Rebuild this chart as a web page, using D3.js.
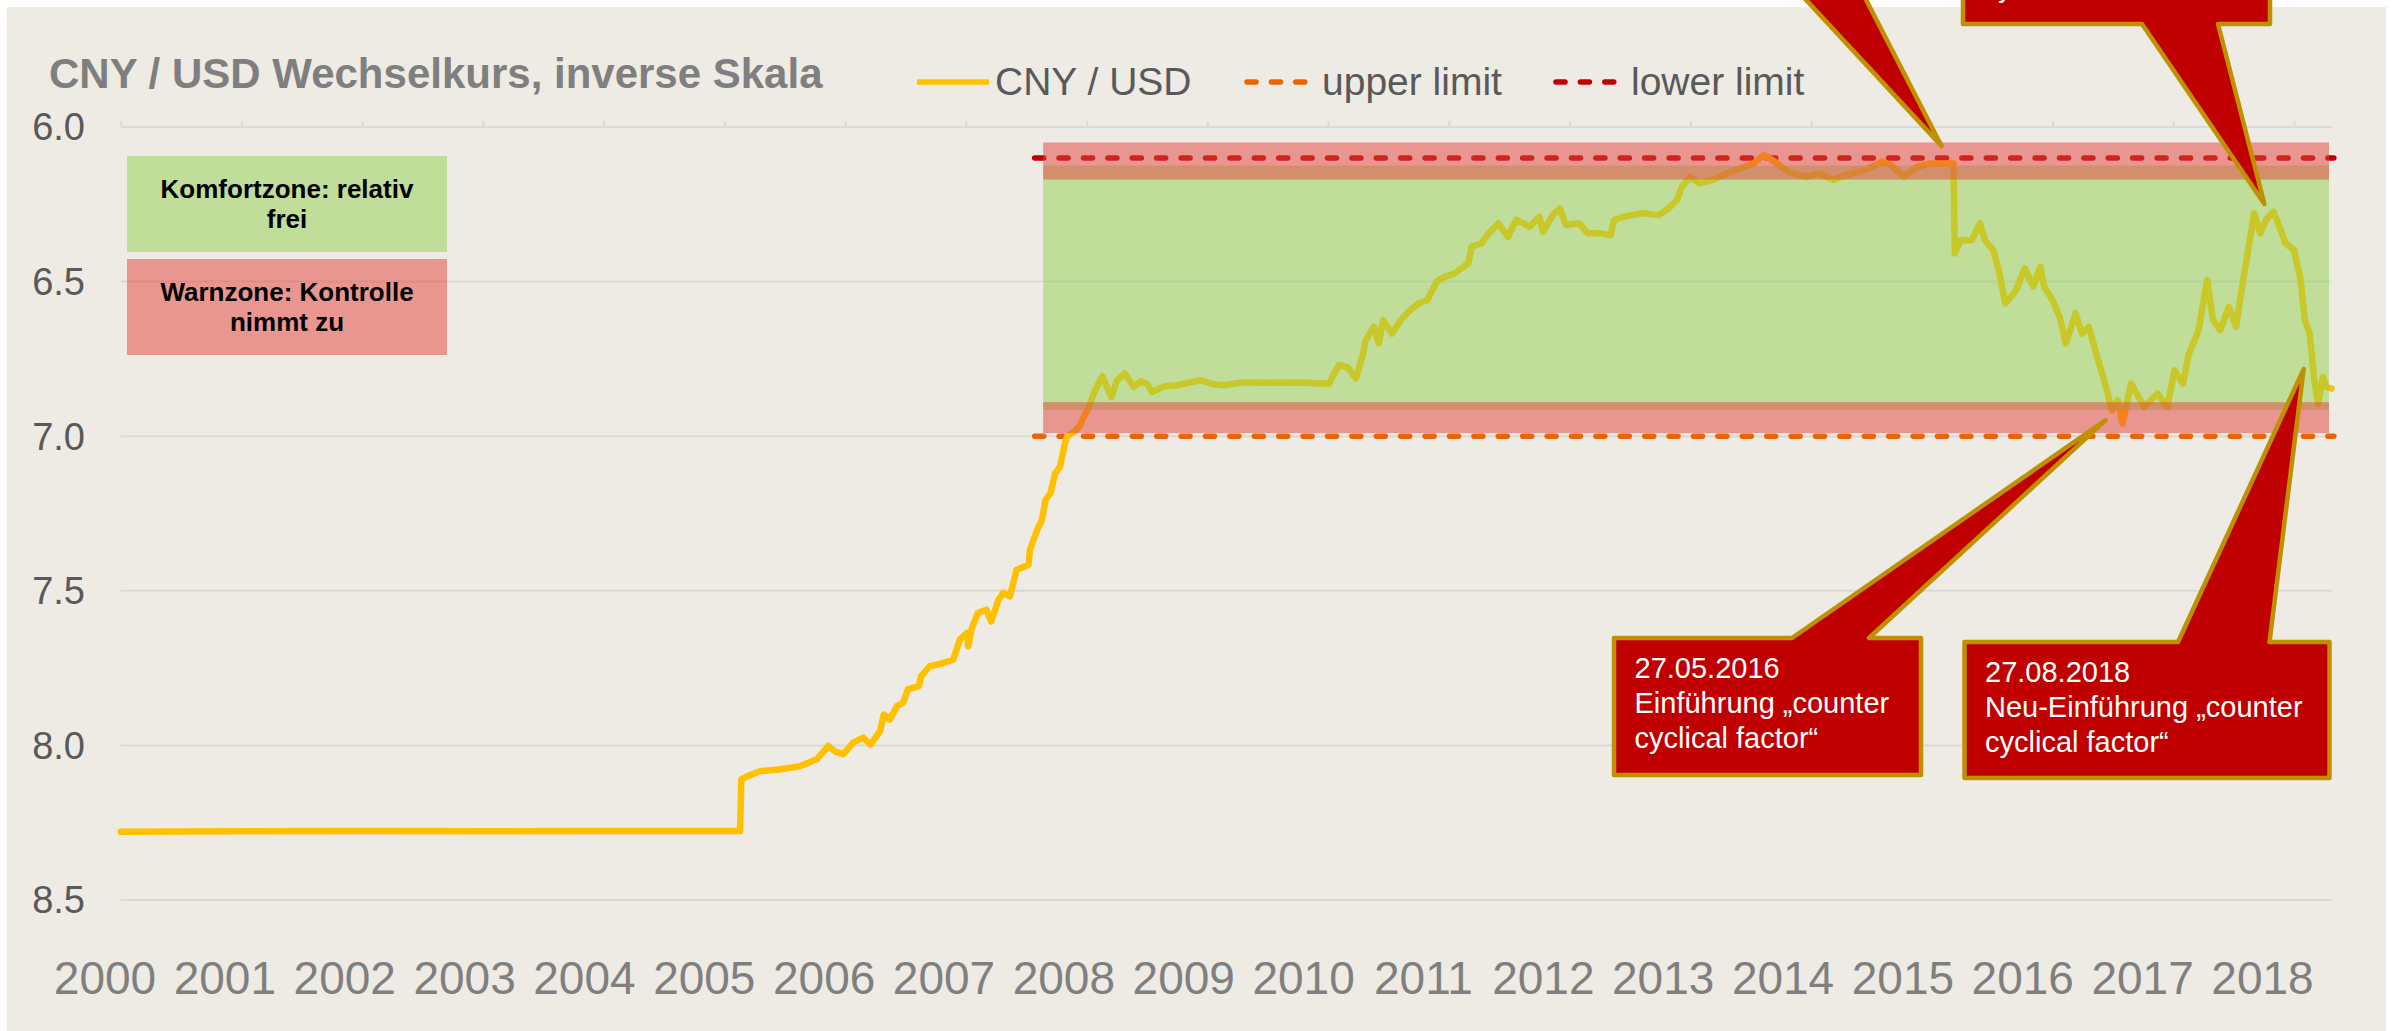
<!DOCTYPE html>
<html>
<head>
<meta charset="utf-8">
<script src="https://cdn.jsdelivr.net/npm/d3@7"></script>
<style>
  body { margin: 0; background: #ffffff; }
  svg { display: block; font-family: "Liberation Sans", Arial, sans-serif; }
</style>
</head>
<body>
<svg id="chart"></svg>
<script>
// x positions are in axis years (as placed on the chart), values are CNY per USD
const years = [
  2000.00, 2001.00, 2002.00, 2003.00, 2004.00, 2005.13, 2005.14, 2005.20, 2005.30, 2005.45,
  2005.63, 2005.765, 2005.86, 2005.92, 2005.985, 2006.07, 2006.15, 2006.21, 2006.29, 2006.32,
  2006.37, 2006.43, 2006.48, 2006.52, 2006.61, 2006.63, 2006.70, 2006.80, 2006.895, 2006.95,
  2007.01, 2007.02, 2007.05, 2007.10, 2007.17, 2007.21, 2007.27, 2007.31, 2007.365, 2007.42,
  2007.52, 2007.53, 2007.59, 2007.63, 2007.66, 2007.70, 2007.74, 2007.78, 2007.82, 2007.84,
  2007.90, 2007.94, 2007.98, 2008.02, 2008.06, 2008.13, 2008.205, 2008.25, 2008.315, 2008.39,
  2008.45, 2008.50, 2008.54, 2008.65, 2008.76, 2008.94, 2009.05, 2009.13, 2009.30, 2009.50,
  2009.75, 2010.01, 2010.05, 2010.09, 2010.16, 2010.23, 2010.29, 2010.31, 2010.38, 2010.42,
  2010.455, 2010.53, 2010.60, 2010.68, 2010.75, 2010.82, 2010.90, 2010.97, 2011.05, 2011.16,
  2011.19, 2011.27, 2011.33, 2011.41, 2011.49, 2011.56, 2011.67, 2011.75, 2011.78, 2011.86,
  2011.92, 2011.97, 2012.08, 2012.15, 2012.26, 2012.34, 2012.37, 2012.45, 2012.60, 2012.74,
  2012.82, 2012.89, 2012.93, 2013.00, 2013.075, 2013.19, 2013.30, 2013.41, 2013.52, 2013.61,
  2013.70, 2013.81, 2013.96, 2014.07, 2014.18, 2014.29, 2014.40, 2014.51, 2014.59, 2014.66,
  2014.77, 2014.88, 2014.99, 2015.10, 2015.18, 2015.19, 2015.24, 2015.33, 2015.40, 2015.44,
  2015.51, 2015.56, 2015.61, 2015.70, 2015.77, 2015.84, 2015.90, 2015.93, 2016.00, 2016.06,
  2016.11, 2016.19, 2016.245, 2016.30, 2016.37, 2016.45, 2016.49, 2016.54, 2016.58, 2016.65,
  2016.76, 2016.87, 2016.95, 2017.01, 2017.08, 2017.13, 2017.21, 2017.28, 2017.33, 2017.39,
  2017.46, 2017.52, 2017.57, 2017.62, 2017.67, 2017.72, 2017.77, 2017.83, 2017.88, 2017.93,
  2018.00, 2018.055, 2018.09, 2018.13, 2018.165, 2018.20, 2018.24, 2018.27, 2018.31
];
const rates = [
  8.279, 8.278, 8.277, 8.278, 8.277, 8.277, 8.110, 8.098, 8.083, 8.078,
  8.067, 8.045, 8.002, 8.020, 8.028, 7.990, 7.975, 7.998, 7.954, 7.900,
  7.916, 7.873, 7.862, 7.819, 7.808, 7.776, 7.744, 7.735, 7.723, 7.658,
  7.636, 7.680, 7.620, 7.572, 7.561, 7.599, 7.529, 7.507, 7.518, 7.432,
  7.416, 7.368, 7.303, 7.271, 7.206, 7.185, 7.120, 7.099, 7.024, 7.000,
  6.985, 6.968, 6.935, 6.905, 6.860, 6.806, 6.873, 6.820, 6.797, 6.840,
  6.822, 6.830, 6.857, 6.838, 6.835, 6.819, 6.832, 6.835, 6.826, 6.827,
  6.826, 6.830, 6.797, 6.770, 6.776, 6.814, 6.733, 6.690, 6.646, 6.700,
  6.625, 6.668, 6.625, 6.592, 6.571, 6.560, 6.500, 6.484, 6.473, 6.441,
  6.387, 6.376, 6.344, 6.312, 6.355, 6.300, 6.323, 6.290, 6.339, 6.285,
  6.263, 6.317, 6.312, 6.344, 6.344, 6.350, 6.300, 6.290, 6.279, 6.285,
  6.263, 6.236, 6.193, 6.161, 6.182, 6.171, 6.150, 6.134, 6.118, 6.091,
  6.112, 6.145, 6.161, 6.150, 6.171, 6.155, 6.145, 6.128, 6.112, 6.123,
  6.161, 6.128, 6.118, 6.118, 6.118, 6.409, 6.366, 6.366, 6.312, 6.366,
  6.398, 6.473, 6.571, 6.527, 6.457, 6.516, 6.452, 6.516, 6.560, 6.614,
  6.700, 6.603, 6.668, 6.646, 6.743, 6.850, 6.916, 6.884, 6.959, 6.830,
  6.906, 6.862, 6.906, 6.787, 6.830, 6.733, 6.657, 6.495, 6.625, 6.657,
  6.582, 6.646, 6.516, 6.398, 6.279, 6.344, 6.300, 6.274, 6.323, 6.376,
  6.398, 6.495, 6.625, 6.668, 6.809, 6.895, 6.809, 6.840, 6.846
];

const yTicks = [6.0, 6.5, 7.0, 7.5, 8.0, 8.5];
const yearLabels = ['2000','2001','2002','2003','2004','2005','2006','2007','2008','2009',
                    '2010','2011','2012','2013','2014','2015','2016','2017','2018'];

const limitNames = ['upper limit', 'lower limit'];
const limitValues = [7.0, 6.1];
const limitSpan = [2007.57, 2018.33];

const zoneNames = ['Komfortzone', 'Warnzone oben', 'Warnzone unten'];
const zoneFrom = [6.125, 6.05, 6.89];
const zoneTo = [6.915, 6.17, 6.99];
const zoneSpan = [2007.64, 2018.29];

const calloutDates = [2015.08, 2017.755, 2016.44, 2018.08];
const calloutRates = [6.061, 6.249, 6.948, 6.783];
// the two upper boxes sit above the picture; only the last line of the second one peeks in
const calloutTexts = [
  [],
  ['', '', 'cyclical factor\u201C'],
  ['27.05.2016', 'Einf\u00FChrung \u201Ecounter', 'cyclical factor\u201C'],
  ['27.08.2018', 'Neu-Einf\u00FChrung \u201Ecounter', 'cyclical factor\u201C']
];

class RateChart {
  constructor(_config) {
    this.config = {
      parentElement: _config.parentElement,
      containerWidth: _config.containerWidth || 2397,
      containerHeight: _config.containerHeight || 1031
    };
    this.colors = {
      bg: '#EEEAE4', grid: '#D9D9D9', line: '#FFC000',
      upper: '#EB6400', lower: '#C00000',
      green: '#92D050', red: '#E6423C',
      callFill: '#C00000', callStroke: '#BF9000'
    };
    this.initVis();
  }

  initVis() {
    let vis = this;
    const c = vis.colors;

    vis.svg = d3.select(vis.config.parentElement)
      .attr('width', vis.config.containerWidth)
      .attr('height', vis.config.containerHeight);

    vis.svg.append('rect')
      .attr('x', 7).attr('y', 7)
      .attr('width', 2379).attr('height', vis.config.containerHeight - 7)
      .attr('fill', c.bg);

    vis.xScale = d3.scaleLinear().domain([2000, 2018]).range([120.7, 2294]);
    vis.yScale = d3.scaleLinear().domain([6, 8.5]).range([127, 900]);
    vis.xEnd = 2018.31;

    vis.labelScale = d3.scalePoint().domain(yearLabels).range([105, 2262.5]);

    vis.updateVis();
  }

  updateVis() {
    let vis = this;
    const c = vis.colors;
    const x = vis.xScale, y = vis.yScale;

    // gridlines
    vis.svg.append('g').selectAll('line')
      .data(yTicks)
      .join('line')
      .attr('x1', x(2000)).attr('x2', x(vis.xEnd))
      .attr('y1', d => y(d)).attr('y2', d => y(d))
      .attr('stroke', c.grid).attr('stroke-width', 2);

    // top axis ticks (inverse scale: axis sits on 6.0)
    const xAxis = vis.svg.append('g')
      .attr('transform', `translate(0,${y(6)})`)
      .call(d3.axisTop(x).tickValues(d3.range(2000, 2019)).tickSize(6).tickSizeOuter(0).tickFormat(''));
    xAxis.select('.domain').remove();
    xAxis.selectAll('line').attr('stroke', c.grid).attr('stroke-width', 2);

    // y labels
    vis.svg.append('g').selectAll('text')
      .data(yTicks)
      .join('text')
      .attr('x', 85).attr('y', d => y(d))
      .attr('dy', '0.35em')
      .attr('text-anchor', 'end')
      .attr('font-size', 38)
      .attr('fill', '#595959')
      .text(d => d.toFixed(1));

    // year labels
    vis.svg.append('g').selectAll('text')
      .data(yearLabels)
      .join('text')
      .attr('x', d => vis.labelScale(d)).attr('y', 994)
      .attr('text-anchor', 'middle')
      .attr('font-size', 46)
      .attr('fill', '#7F7F7F')
      .text(d => d);

    // limit lines
    vis.svg.append('g').selectAll('line')
      .data(limitValues)
      .join('line')
      .attr('x1', x(limitSpan[0])).attr('x2', x(limitSpan[1]))
      .attr('y1', d => y(d)).attr('y2', d => y(d))
      .attr('stroke', (d, i) => i === 0 ? c.upper : c.lower)
      .attr('stroke-width', 5.5)
      .attr('stroke-linecap', 'round')
      .attr('stroke-dasharray', '9,15.4');

    // exchange rate line
    const line = d3.line()
      .x((d, i) => x(years[i]))
      .y(d => y(d));
    vis.svg.append('path')
      .datum(rates)
      .attr('d', line)
      .attr('fill', 'none')
      .attr('stroke', c.line)
      .attr('stroke-width', 6.5)
      .attr('stroke-linejoin', 'round')
      .attr('stroke-linecap', 'round');

    // zones drawn on top, semi transparent
    vis.svg.append('g').selectAll('rect')
      .data(zoneNames)
      .join('rect')
      .attr('x', x(zoneSpan[0]))
      .attr('width', x(zoneSpan[1]) - x(zoneSpan[0]))
      .attr('y', (d, i) => y(zoneFrom[i]))
      .attr('height', (d, i) => y(zoneTo[i]) - y(zoneFrom[i]))
      .attr('fill', (d, i) => i === 0 ? c.green : c.red)
      .attr('fill-opacity', 0.5);

    // zone key boxes
    const keys = [
      {fill: c.green, y: 156, lines: ['Komfortzone: relativ', 'frei']},
      {fill: c.red, y: 259, lines: ['Warnzone: Kontrolle', 'nimmt zu']}
    ];
    keys.forEach(k => {
      vis.svg.append('rect')
        .attr('x', 127).attr('y', k.y).attr('width', 320).attr('height', 96)
        .attr('fill', k.fill).attr('fill-opacity', 0.5);
      vis.svg.append('text')
        .attr('x', 287).attr('y', k.y + 42)
        .attr('text-anchor', 'middle')
        .attr('font-size', 26).attr('font-weight', 'bold')
        .attr('fill', '#000')
        .selectAll('tspan')
        .data(k.lines)
        .join('tspan')
        .attr('x', 287)
        .attr('dy', (d, i) => i === 0 ? 0 : 30)
        .text(d => d);
    });

    // title
    vis.svg.append('text')
      .attr('x', 49).attr('y', 88)
      .attr('font-size', 42).attr('font-weight', 'bold')
      .attr('fill', '#7F7F7F')
      .text('CNY / USD Wechselkurs, inverse Skala');

    // legend
    const lg = vis.svg.append('g');
    lg.append('line')
      .attr('x1', 917).attr('x2', 989).attr('y1', 82).attr('y2', 82)
      .attr('stroke', c.line).attr('stroke-width', 5.5);
    lg.append('text').attr('x', 995).attr('y', 95)
      .attr('font-size', 39).attr('fill', '#595959').text('CNY / USD');
    const lgX = [1247, 1556];
    limitNames.forEach((name, i) => {
      lg.append('line')
        .attr('x1', lgX[i]).attr('x2', lgX[i] + 60).attr('y1', 82).attr('y2', 82)
        .attr('stroke', i === 0 ? c.upper : c.lower)
        .attr('stroke-width', 5.5)
        .attr('stroke-linecap', 'round')
        .attr('stroke-dasharray', '9,15.4');
      lg.append('text').attr('x', lgX[i] + 75).attr('y', 95)
        .attr('font-size', 39).attr('fill', '#595959').text(name);
    });

    // callouts: box [x0, y0, x1, y1], tail base on top or bottom edge
    const boxes = [
      {x0: 1600, y0: -150, x1: 1905, y1: -12, b0: 1795, b1: 1860, edge: 'bottom'},
      {x0: 1963, y0: -113, x1: 2270, y1: 24, b0: 2142, b1: 2218, edge: 'bottom'},
      {x0: 1614, y0: 638, x1: 1921, y1: 775, b0: 1792, b1: 1869, edge: 'top'},
      {x0: 1964.5, y0: 642, x1: 2329.5, y1: 778, b0: 2178, b1: 2269.5, edge: 'top'}
    ];
    boxes.forEach((b, i) => {
      const tx = x(calloutDates[i]), ty = y(calloutRates[i]);
      const p = d3.path();
      if (b.edge === 'top') {
        p.moveTo(b.x0, b.y0); p.lineTo(b.b0, b.y0); p.lineTo(tx, ty); p.lineTo(b.b1, b.y0);
        p.lineTo(b.x1, b.y0); p.lineTo(b.x1, b.y1); p.lineTo(b.x0, b.y1); p.closePath();
      } else {
        p.moveTo(b.x0, b.y0); p.lineTo(b.x1, b.y0); p.lineTo(b.x1, b.y1); p.lineTo(b.b1, b.y1);
        p.lineTo(tx, ty); p.lineTo(b.b0, b.y1); p.lineTo(b.x0, b.y1); p.closePath();
      }
      vis.svg.append('path')
        .attr('d', p.toString())
        .attr('fill', c.callFill)
        .attr('stroke', c.callStroke)
        .attr('stroke-width', 4.5)
        .attr('stroke-linejoin', 'round');
      vis.svg.append('text')
        .attr('font-size', 29).attr('fill', '#FFFFFF')
        .selectAll('tspan')
        .data(calloutTexts[i].filter(d => d !== ''))
        .join('tspan')
        .attr('x', b.x0 + 20.5)
        .attr('y', (d, j) => b.y0 + 40 + (j + calloutTexts[i].indexOf(d)) * 35 - j * 35)
        .text(d => d);
    });
  }
}

new RateChart({parentElement: '#chart'});
</script>
</body>
</html>
